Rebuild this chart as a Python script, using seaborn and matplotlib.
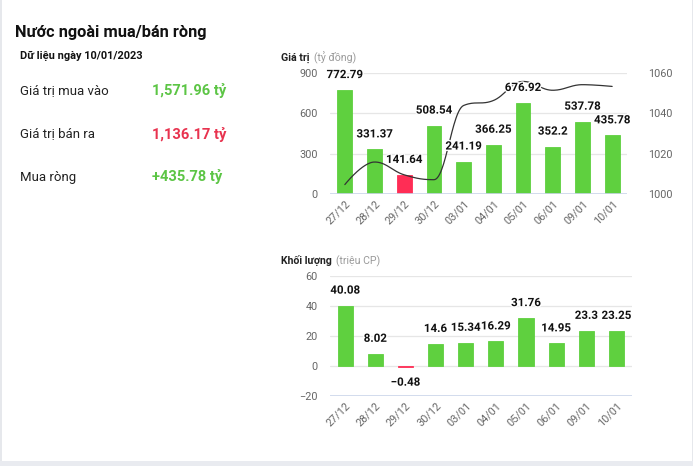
import numpy as np
import pandas as pd
import matplotlib
matplotlib.use("Agg")
import matplotlib.pyplot as plt
import matplotlib.patheffects as pe
import seaborn as sns

sns.set_theme(style="white")
plt.rcParams["font.family"] = ["Roboto", "DejaVu Sans"]

dates = ["27/12", "28/12", "29/12", "30/12", "03/01", "04/01", "05/01", "06/01", "09/01", "10/01"]
value_net = [772.79, 331.37, 141.64, 508.54, 241.19, 366.25, 676.92, 352.2, 537.78, 435.78]
value_sign = ["pos", "pos", "neg", "pos", "pos", "pos", "pos", "pos", "pos", "pos"]
index_vals = [1004.67, 1015.86, 1009.5, 1007.09, 1043.9, 1046.35, 1055.82, 1051.44, 1054.21, 1053.35]
volume_net = [40.08, 8.02, -0.48, 14.6, 15.34, 16.29, 31.76, 14.95, 23.3, 23.25]

summary_labels = ["Giá trị mua vào", "Giá trị bán ra", "Mua ròng"]
summary_values = ["1,571.96 tỷ", "1,136.17 tỷ", "+435.78 tỷ"]

GREEN = "#5fd03f"
RED = "#ff2d55"
W, H = 693, 466

fig = plt.figure(figsize=(W / 100, H / 100), dpi=100)
fig.patch.set_facecolor("white")


def fx(x):
    return x / W


def fy(y):
    return 1 - y / H


def rect(x0, y0, x1, y1):
    return [fx(x0), fy(y1), fx(x1) - fx(x0), fy(y0) - fy(y1)]


# frame decorations
bg = fig.add_axes([0, 0, 1, 1], zorder=-10)
bg.set_xlim(0, W)
bg.set_ylim(H, 0)
bg.axis("off")
bg.add_patch(plt.Rectangle((0, 460.5), W, 6, color="#e9ebf0", lw=0))
bg.add_patch(plt.Rectangle((0, 0), 1.5, 461, color="#e6e8ec", lw=0))
bg.add_patch(plt.Rectangle((691.5, 0), 1.5, 461, color="#e6e8ec", lw=0))

# left summary panel
fig.text(fx(15), fy(33), "Nước ngoài mua/bán ròng", fontsize=11.8, fontweight="bold",
         color="#111111", va="center", ha="left")
fig.text(fx(20), fy(56), "Dữ liệu ngày 10/01/2023", fontsize=7.9, fontweight="bold",
         color="#111111", va="center", ha="left")
rows_y = [91, 134, 177]
val_colors = ["#5cc545", "#e8334f", "#5cc545"]
for lab, val, yy, c in zip(summary_labels, summary_values, rows_y, val_colors):
    fig.text(fx(20), fy(yy), lab, fontsize=9.5, color="#222222", va="center", ha="left")
    fig.text(fx(152), fy(yy), val, fontsize=10.5, fontweight="bold", color=c,
             va="center", ha="left")


# chart titles: bold name followed by grey unit
def chart_title(x, y, name, unit):
    t = fig.text(fx(x), fy(y), name, fontsize=7.6, fontweight="bold", color="#222222",
                 va="center", ha="left")
    fig.texts.append(matplotlib.text.Annotation(
        unit, xy=(1, 0.5), xycoords=t, xytext=(3, 0), textcoords="offset points",
        fontsize=7.6, color="#9a9a9a", va="center", ha="left"))
    fig.texts[-1].set_figure(fig)


chart_title(281, 58, "Giá trị", "(tỷ đồng)")
chart_title(281, 261, "Khối lượng", "(triệu CP)")

outline = [pe.withStroke(linewidth=2, foreground="white")]
TICK_FS = 7.8
LABEL_FS = 8.3


def style_axis(ax, ylim, yticks, pad):
    ax.set_ylim(*ylim)
    ax.set_yticks(yticks)
    ax.set_xlim(-0.5, len(dates) - 0.5)
    ax.set_xlabel("")
    ax.set_ylabel("")
    for s in ax.spines.values():
        s.set_visible(False)
    ax.grid(axis="y", color="#e6e6e6", lw=0.9)
    ax.grid(axis="x", visible=False)
    ax.set_axisbelow(True)
    ax.tick_params(axis="y", length=0, pad=pad, labelsize=TICK_FS, labelcolor="#666666")
    ax.tick_params(axis="x", length=0, pad=3, labelsize=TICK_FS, labelcolor="#666666")
    for lbl in ax.get_xticklabels():
        lbl.set_rotation(45)
        lbl.set_ha("right")
        lbl.set_rotation_mode("anchor")
    # thin same-colour edge so that very small bars stay visible
    for p in ax.patches:
        p.set_edgecolor(p.get_facecolor())
        p.set_linewidth(0.6)


def smooth_curve(xs, ys, smoothing=1.5, steps=30):
    """Highcharts-style spline rendering through the given points."""
    n = len(xs)
    denom = smoothing + 1
    lc = [(xs[i], ys[i]) for i in range(n)]
    rc = [(xs[i], ys[i]) for i in range(n)]
    for i in range(1, n - 1):
        px, py = xs[i - 1], ys[i - 1]
        nx, ny = xs[i + 1], ys[i + 1]
        x, y = xs[i], ys[i]
        lcx = (smoothing * x + px) / denom
        lcy = (smoothing * y + py) / denom
        rcx = (smoothing * x + nx) / denom
        rcy = (smoothing * y + ny) / denom
        corr = ((rcy - lcy) * (rcx - x)) / (rcx - lcx) + y - rcy
        lcy += corr
        rcy += corr
        if lcy > py and lcy > y:
            lcy = max(py, y)
            rcy = 2 * y - lcy
        elif lcy < py and lcy < y:
            lcy = min(py, y)
            rcy = 2 * y - lcy
        if rcy > ny and rcy > y:
            rcy = max(ny, y)
            lcy = 2 * y - rcy
        elif rcy < ny and rcy < y:
            rcy = min(ny, y)
            lcy = 2 * y - rcy
        lc[i] = (lcx, lcy)
        rc[i] = (rcx, rcy)
    outx, outy = [], []
    t = np.linspace(0, 1, steps)
    for i in range(n - 1):
        p0 = np.array([xs[i], ys[i]])
        p1 = np.array(rc[i])
        p2 = np.array(lc[i + 1])
        p3 = np.array([xs[i + 1], ys[i + 1]])
        pts = ((1 - t) ** 3)[:, None] * p0 + (3 * (1 - t) ** 2 * t)[:, None] * p1 \
            + (3 * (1 - t) * t ** 2)[:, None] * p2 + (t ** 3)[:, None] * p3
        outx.extend(pts[:, 0])
        outy.extend(pts[:, 1])
    return outx, outy


# top chart: value
ax1 = fig.add_axes(rect(330, 73, 627, 194))
df1 = pd.DataFrame({"date": dates, "value": value_net, "sign": value_sign})
sns.barplot(data=df1, x="date", y="value", hue="sign",
            palette={"pos": GREEN, "neg": RED}, width=0.5, dodge=False,
            legend=False, ax=ax1, saturation=1)
style_axis(ax1, (0, 900), [0, 300, 600, 900], 9)
ax1.axhline(0, color="#ccd6eb", lw=1.2, zorder=1)

ax1b = ax1.twinx()
# index line is drawn in pixel-proportional space (x step vs y range), as the chart does
ax_w_px, ax_h_px = 297.0, 121.0
xs_px = [i * ax_w_px / len(dates) for i in range(len(index_vals))]
ys_px = [(v - 1000) / 60 * ax_h_px for v in index_vals]
cx, cy = smooth_curve(xs_px, ys_px)
cx = [c * len(dates) / ax_w_px for c in cx]
cy = [1000 + c / ax_h_px * 60 for c in cy]
sns.lineplot(x=cx, y=cy, ax=ax1b, color="#333333", lw=0.9, sort=False, zorder=3)
ax1b.set_ylim(1000, 1060)
ax1b.set_yticks([1000, 1020, 1040, 1060])
ax1b.set_xlim(-0.5, len(dates) - 0.5)
for s in ax1b.spines.values():
    s.set_visible(False)
ax1b.grid(False)
ax1b.tick_params(axis="y", length=0, pad=15, labelsize=TICK_FS, labelcolor="#666666")
ax1b.set_ylabel("")

for i, v in enumerate(value_net):
    ax1b.annotate(f"{v:g}", xy=(i, 1000 + v / 900 * 60), xytext=(0, 6.5),
                  textcoords="offset points", ha="center", va="bottom",
                  fontsize=LABEL_FS, fontweight="semibold", color="#111111",
                  path_effects=outline, zorder=5, annotation_clip=False)

# bottom chart: volume
ax2 = fig.add_axes(rect(330, 275.7, 631.5, 396))
df2 = pd.DataFrame({"date": dates, "volume": volume_net,
                    "sign": ["pos" if v >= 0 else "neg" for v in volume_net]})
sns.barplot(data=df2, x="date", y="volume", hue="sign",
            palette={"pos": GREEN, "neg": RED}, width=0.5, dodge=False,
            legend=False, ax=ax2, saturation=1)
style_axis(ax2, (-20, 60), [-20, 0, 20, 40, 60], 9)
ax2.axhline(-20, color="#ccd6eb", lw=1.2, zorder=1)
for i, v in enumerate(volume_net):
    off = 6.5 if v >= 0 else -6.5
    ax2.annotate(f"{v:g}".replace("-", "\u2212"), xy=(i, v), xytext=(0, off),
                 textcoords="offset points", ha="center",
                 va="bottom" if v >= 0 else "top",
                 fontsize=LABEL_FS, fontweight="semibold", color="#111111",
                 path_effects=outline, zorder=5, annotation_clip=False)

fig.savefig("out.png", dpi=100, facecolor="white")
